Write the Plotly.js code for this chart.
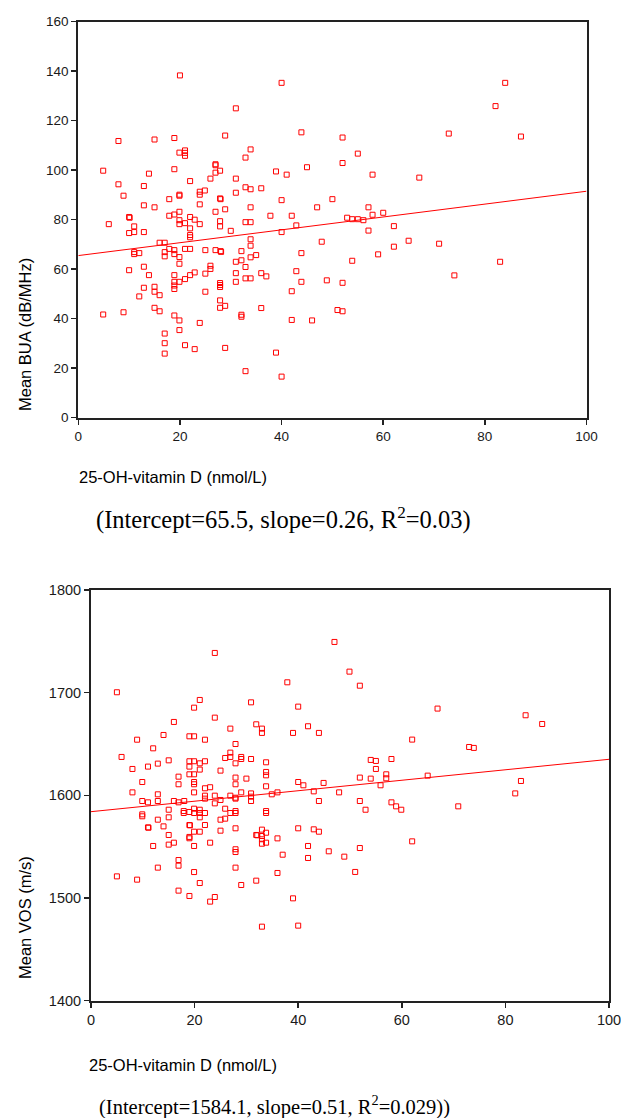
<!DOCTYPE html>
<html>
<head>
<meta charset="utf-8">
<script src="https://cdn.plot.ly/plotly-3.0.1.min.js"></script>
<style>html,body{margin:0;padding:0;background:#fff;}#chart{width:621px;height:1118px;}</style>
</head>
<body>
<div id="chart"></div>
<script>
// ---- Top panel: Mean BUA vs 25-OH-vitamin D ----
const buaX = [20.0,40.0,31.0,7.9,15.0,18.9,28.9,43.9,33.9,21.0,19.9,21.0,21.0,32.9,4.9,18.9,13.9,27.0,27.0,27.0,27.9,38.9,41.0,45.0,7.9,12.9,22.0,26.0,31.0,8.9,17.9,19.9,19.9,23.9,23.9,24.9,27.9,28.0,31.0,32.9,33.9,36.0,40.0,12.9,15.0,23.9,27.0,28.9,33.9,47.0,50.0,10.0,10.1,17.9,18.9,19.9,22.0,22.9,19.9,6.0,11.0,19.9,21.0,23.9,22.0,27.9,27.9,32.9,33.9,37.8,42.0,42.9,30.0,
10.0,11.0,12.9,40.0,16.0,17.0,17.9,17.0,17.0,11.0,11.0,12.0,18.9,18.9,21.0,22.0,22.0,22.0,25.0,27.0,28.0,28.1,32.1,33.9,33.9,33.9,35.0,19.9,19.9,32.1,31.0,26.0,26.0,32.9,43.9,47.9,10.0,12.9,13.9,18.9,22.9,22.0,21.0,19.9,18.9,18.9,18.9,25.0,31.0,31.0,32.9,33.9,36.0,37.0,42.9,43.9,48.9,12.9,15.0,15.0,16.0,12.0,25.0,27.9,27.9,27.9,42.0,27.9,27.9,28.9,15.0,16.0,4.9,8.9,18.9,19.9,19.9,23.9,32.1,32.1,36.0,42.0,46.0,17.0,17.0,17.0,21.0,22.9,28.9,38.9,32.9,40.0,
84.0,82.1,72.9,87.1,52.0,55.0,52.0,57.9,67.1,57.1,57.9,60.0,52.9,53.9,55.0,56.1,57.1,62.1,65.0,71.0,62.1,59.0,53.9,83.0,74.0,52.0,51.0,52.0];
const buaY = [138.3,135.3,125.0,111.8,112.4,113.0,114.0,115.3,108.4,108.0,107.1,107.0,105.8,105.1,99.8,100.4,98.6,102.4,102.0,99.0,99.8,99.5,98.2,101.2,94.3,93.6,95.6,96.6,96.6,89.7,88.3,90.1,89.7,91.3,90.1,91.8,88.6,88.3,90.9,93.1,92.3,92.7,87.9,85.8,85.0,86.2,83.2,84.2,85.0,85.0,88.3,81.1,80.8,81.6,82.1,83.2,81.1,80.0,79.8,78.2,77.3,78.2,78.6,78.2,76.5,79.4,77.3,79.0,79.0,81.6,81.6,77.7,75.5,
74.6,75.0,75.0,75.0,70.7,70.7,68.2,66.9,65.2,66.9,66.1,66.5,67.7,66.1,68.2,68.2,73.8,72.9,67.7,67.7,67.3,67.0,67.3,72.1,69.5,64.8,65.7,64.9,62.2,63.6,63.0,61.4,60.1,60.9,66.5,71.1,59.6,61.0,57.6,57.6,58.7,57.6,56.0,54.9,54.9,53.4,52.0,58.2,58.4,54.9,56.3,56.3,58.4,57.1,59.2,54.9,55.5,52.5,52.9,50.9,49.5,49.0,50.9,54.4,53.6,52.8,51.1,47.4,44.4,45.2,44.4,43.0,41.7,42.6,41.3,39.3,35.4,38.3,41.6,40.8,44.3,39.5,39.3,34.0,30.1,25.9,29.3,27.7,28.2,26.3,18.8,16.6,
135.3,125.9,114.8,113.6,113.2,106.7,102.9,98.2,97.0,85.0,82.0,82.8,80.8,80.2,80.2,79.8,75.6,77.4,71.5,70.3,69.1,66.0,63.4,63.0,57.5,54.5,43.5,43.0];
const buaFit = [65.5, 0.26]; // intercept, slope

// ---- Bottom panel: Mean VOS vs 25-OH-vitamin D ----
const vosX = [23.9,5.0,37.9,21.0,30.9,19.9,40.0,23.9,16.0,31.9,41.9,33.0,26.9,33.0,39.0,44.0,14.0,19.0,19.9,8.9,22.0,27.9,12.0,26.9,5.9,25.9,26.9,29.0,29.0,30.9,15.0,19.0,19.9,22.0,12.9,11.0,19.0,21.0,27.9,33.8,8.0,21.0,25.0,33.8,33.8,19.0,19.9,16.9,27.9,30.0,9.9,19.9,40.0,16.9,19.9,27.9,41.0,44.9,33.8,22.0,23.0,
8.0,12.9,19.9,22.0,22.0,23.9,23.9,25.0,26.9,27.9,27.9,29.0,30.9,30.9,30.9,34.9,36.0,43.0,44.0,47.9,9.9,11.0,12.9,16.0,16.9,18.0,9.9,9.9,15.0,17.9,17.9,19.0,19.9,19.9,21.0,21.0,22.0,21.0,25.9,26.9,27.9,27.9,25.9,25.0,33.8,33.8,12.9,15.0,11.0,11.1,14.0,19.0,19.1,22.0,15.0,16.0,15.0,12.0,19.9,21.0,19.0,19.0,19.9,23.0,25.0,27.9,31.9,32.1,33.0,33.0,33.0,33.0,33.8,33.8,36.0,40.0,43.0,44.0,41.9,41.9,37.0,45.9,27.9,27.9,27.9,16.9,16.9,12.9,19.9,21.0,5.0,8.9,16.9,19.0,23.9,23.0,29.0,31.9,36.0,39.0,33.0,40.0,
47.0,49.9,51.9,66.9,83.9,87.1,62.0,73.0,73.9,54.0,55.0,58.0,55.0,57.0,57.0,51.9,54.0,65.0,55.9,83.0,81.9,51.9,58.0,58.9,53.0,59.9,70.9,62.0,51.9,48.9,51.0];
const vosY = [1738.7,1700.4,1710.1,1692.9,1690.6,1685.4,1686.4,1675.7,1671.5,1669.2,1667.3,1665.0,1665.0,1660.8,1660.8,1660.8,1658.8,1657.5,1657.5,1654.2,1654.2,1650.0,1645.8,1641.6,1637.4,1636.4,1637.4,1637.4,1635.4,1635.4,1634.1,1633.2,1633.2,1633.2,1630.9,1628.0,1628.0,1631.2,1631.2,1632.2,1625.7,1625.1,1624.1,1622.8,1619.5,1620.5,1620.5,1618.2,1617.3,1616.3,1613.0,1613.0,1613.0,1610.8,1610.8,1610.8,1609.8,1612.1,1608.8,1606.9,1607.9,
1602.9,1601.0,1602.9,1599.7,1596.8,1599.7,1592.2,1595.5,1599.7,1597.7,1596.8,1602.9,1601.9,1598.7,1594.5,1601.0,1602.9,1603.9,1594.5,1602.9,1594.5,1593.2,1594.5,1594.5,1593.2,1594.5,1581.5,1579.6,1586.0,1584.7,1582.8,1583.8,1587.0,1582.8,1586.0,1582.8,1582.8,1578.6,1587.0,1582.8,1584.7,1582.8,1577.3,1576.3,1584.7,1582.8,1576.3,1578.6,1568.8,1568.5,1569.8,1571.1,1570.8,1571.1,1561.4,1553.9,1552.0,1550.7,1564.6,1564.6,1559.5,1558.2,1550.7,1553.9,1565.6,1567.9,1561.4,1561.1,1566.6,1560.4,1557.2,1552.9,1563.6,1553.9,1558.1,1567.9,1566.9,1564.6,1550.7,1539.0,1542.2,1545.5,1547.5,1544.8,1529.6,1537.0,1531.5,1529.6,1525.3,1514.6,1521.1,1517.9,1507.2,1502.0,1501.0,1496.5,1512.7,1516.9,1524.4,1499.7,1472.1,1473.1,
1749.4,1720.5,1706.8,1684.5,1678.0,1669.5,1654.3,1647.1,1646.2,1634.5,1633.5,1635.4,1625.7,1620.5,1616.6,1617.3,1616.3,1619.2,1609.8,1614.0,1601.9,1594.5,1593.2,1589.3,1586.0,1586.0,1589.3,1555.2,1548.7,1540.3,1525.4];
const vosFit = [1584.1, 0.51]; // intercept, slope

const xRange = [0, 100];
const xTitle = "25-OH-vitamin D (nmol/L)";
const topYTitle = "Mean BUA (dB/MHz)";
const botYTitle = "Mean VOS (m/s)";
const topCaption = "(Intercept=65.5, slope=0.26, R<sup>2</sup>=0.03)";
const botCaption = "(Intercept=1584.1, slope=0.51, R<sup>2</sup>=0.029))";

const W = 621, H = 1118;
const px = v => v / W;
const py = v => 1 - v / H;

const RED = '#ff0000';
const marker = {symbol: 'square-open', size: 5, color: RED, line: {width: 1, color: RED}};

const fitLine = (fit) => ({x: xRange, y: xRange.map(v => fit[0] + fit[1] * v)});

const traces = [
  {type: 'scatter', mode: 'markers', x: buaX, y: buaY, marker: marker, xaxis: 'x', yaxis: 'y', hoverinfo: 'skip'},
  Object.assign({type: 'scatter', mode: 'lines', line: {color: RED, width: 1}, xaxis: 'x', yaxis: 'y'}, fitLine(buaFit)),
  {type: 'scatter', mode: 'markers', x: vosX, y: vosY, marker: marker, xaxis: 'x2', yaxis: 'y2', hoverinfo: 'skip'},
  Object.assign({type: 'scatter', mode: 'lines', line: {color: RED, width: 1}, xaxis: 'x2', yaxis: 'y2'}, fitLine(vosFit))
];

const SANS = 'Liberation Sans, Arial, sans-serif';
const SERIF = 'Liberation Serif, Times New Roman, serif';
const axisBase = {
  showgrid: false, zeroline: false, showline: true, linecolor: '#222', linewidth: 2,
  mirror: true, ticks: 'outside', ticklen: 5, tickwidth: 1.5, tickcolor: '#222',
  fixedrange: true, ticklabeloverflow: 'allow'
};
const f1 = {family: SANS, size: 13.5, color: '#1a1a1a'};
const f2 = {family: SANS, size: 14.5, color: '#1a1a1a'};

const layout = {
  width: W, height: H,
  margin: {l: 0, r: 0, t: 0, b: 0},
  paper_bgcolor: '#fff', plot_bgcolor: '#fff',
  showlegend: false,
  xaxis: Object.assign({}, axisBase, {domain: [px(78.3), px(586.5)], range: xRange, dtick: 20, anchor: 'y', tickfont: f1}),
  yaxis: Object.assign({}, axisBase, {domain: [py(417.7), py(21.7)], range: [0, 160], dtick: 20, anchor: 'x', tickfont: f1}),
  xaxis2: Object.assign({}, axisBase, {domain: [px(91), px(609)], range: xRange, dtick: 20, anchor: 'y2', tickfont: f2}),
  yaxis2: Object.assign({}, axisBase, {domain: [py(1000.7), py(590)], range: [1400, 1800], dtick: 100, anchor: 'x2', tickfont: f2}),
  annotations: [
    {xref: 'paper', yref: 'paper', x: px(77), y: py(477), xanchor: 'left', yanchor: 'middle', showarrow: false,
     text: xTitle, font: {family: SANS, size: 16.5, color: '#000'}},
    {xref: 'paper', yref: 'paper', x: px(283), y: py(518), xanchor: 'center', yanchor: 'middle', showarrow: false,
     text: topCaption, font: {family: SERIF, size: 24.5, color: '#000'}},
    {xref: 'paper', yref: 'paper', x: px(25), y: py(335), xanchor: 'center', yanchor: 'middle', showarrow: false, textangle: -90,
     text: topYTitle, font: {family: SANS, size: 16.5, color: '#000'}},
    {xref: 'paper', yref: 'paper', x: px(87), y: py(1065), xanchor: 'left', yanchor: 'middle', showarrow: false,
     text: xTitle, font: {family: SANS, size: 16.5, color: '#000'}},
    {xref: 'paper', yref: 'paper', x: px(274), y: py(1105), xanchor: 'center', yanchor: 'middle', showarrow: false,
     text: botCaption, font: {family: SERIF, size: 20.5, color: '#000'}},
    {xref: 'paper', yref: 'paper', x: px(25), y: py(918), xanchor: 'center', yanchor: 'middle', showarrow: false, textangle: -90,
     text: botYTitle, font: {family: SANS, size: 16.5, color: '#000'}}
  ]
};

Plotly.newPlot('chart', traces, layout, {staticPlot: true, displayModeBar: false});
</script>
</body>
</html>
